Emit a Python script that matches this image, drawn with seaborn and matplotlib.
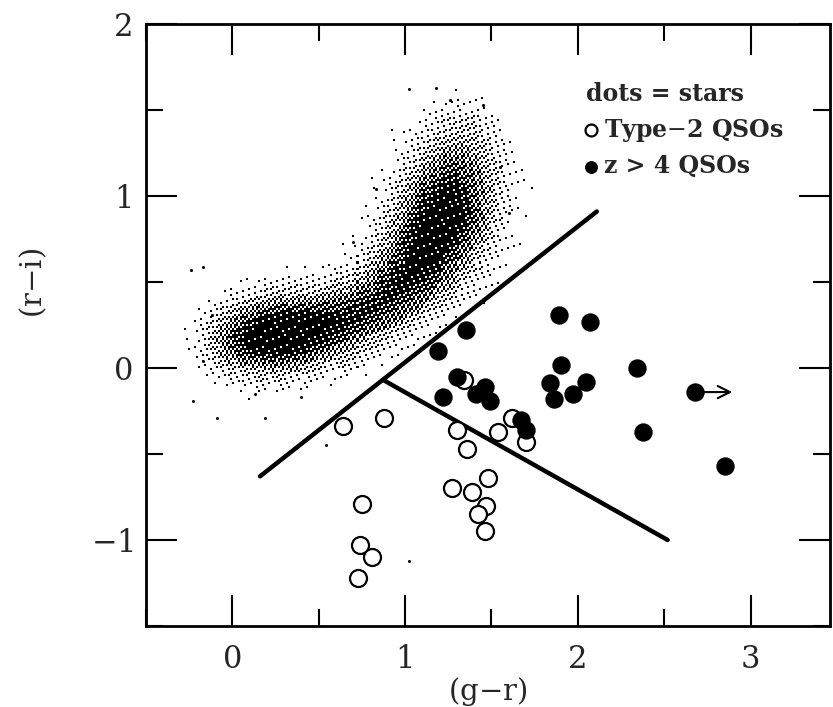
import numpy as np
import pandas as pd
import matplotlib.pyplot as plt
from matplotlib.colors import ListedColormap
import seaborn as sns

# --- data: colours (g-r) and (r-i) ---

# ridge of the stellar locus: centre, relative crowding and half-width there
locus_gr = [-0.02, 0.10, 0.22, 0.33, 0.45, 0.60, 0.75, 0.90, 1.02, 1.12, 1.20, 1.25, 1.28, 1.31, 1.33]
locus_ri = [0.15, 0.17, 0.19, 0.20, 0.22, 0.26, 0.32, 0.40, 0.52, 0.66, 0.82, 0.95, 1.10, 1.25, 1.38]
locus_w = [0.35, 0.8, 1.0, 1.0, 0.9, 0.8, 0.75, 0.75, 0.8, 0.95, 1.0, 0.85, 0.5, 0.25, 0.1]
locus_sig = [0.11, 0.12, 0.12, 0.12, 0.12, 0.12, 0.12, 0.12, 0.13, 0.15, 0.15, 0.15, 0.15, 0.14, 0.12]

# a few stray stars well away from the locus
stray_gr = [-0.24, -0.17, -0.23, -0.09, -0.12, 1.02, 1.26, 1.45, 1.60, 0.19, 0.40, 0.13,
            -0.17, 0.70, 0.83, 1.55, 1.18, 1.02, 0.54]
stray_ri = [0.57, 0.59, -0.19, -0.29, 0.31, 1.62, 1.56, 1.53, 0.90, -0.29, -0.17, -0.15,
            0.04, 0.73, 1.04, 1.17, 1.63, -1.12, -0.45]

# Type-2 QSOs (open circles)
type2_gr = [0.64, 0.88, 1.30, 1.36, 1.54, 1.62, 1.70, 1.48, 1.27, 1.39, 1.47, 1.42, 1.46,
            0.75, 0.74, 0.81, 0.73, 1.34]
type2_ri = [-0.34, -0.29, -0.36, -0.47, -0.37, -0.29, -0.43, -0.64, -0.70, -0.72, -0.80,
            -0.85, -0.95, -0.79, -1.03, -1.10, -1.22, -0.07]

# z > 4 QSOs (filled circles); one is only a lower limit in (g-r)
hiz_gr = [1.35, 1.19, 1.30, 1.22, 1.41, 1.46, 1.49, 1.89, 2.07, 1.90, 1.84, 1.86, 1.97,
          2.05, 2.34, 2.68, 2.38, 2.85, 1.67, 1.70]
hiz_ri = [0.22, 0.10, -0.05, -0.17, -0.15, -0.11, -0.19, 0.31, 0.27, 0.02, -0.09, -0.18,
          -0.15, -0.08, 0.00, -0.14, -0.37, -0.57, -0.30, -0.36]
hiz_limit = [False] * 15 + [True] + [False] * 4
limit_len = 0.23

# colour cuts
cut1_gr = [0.16, 2.11]
cut1_ri = [-0.63, 0.91]
cut2_gr = [0.874, 2.52]
cut2_ri = [-0.07, -1.00]

sns.set_style('ticks')
plt.rcParams['font.family'] = ['DejaVu Serif']
plt.rcParams['mathtext.fontset'] = 'dejavuserif'

fig = plt.figure(figsize=(8.33, 7.07), dpi=100)
ax = fig.add_axes([146 / 833, 1 - 626 / 707, (830 - 146) / 833, (626 - 24) / 707])

# stellar locus: crowding along the ridge, printed as a dot screen
cell_x, cell_y = 2 / 172.7, 2 / 172.0
gx = np.arange(-0.5, 1.9, cell_x) + cell_x / 2
gy = np.arange(-0.7, 1.9, cell_y) + cell_y / 2
X, Y = np.meshgrid(gx, gy)
dens = np.zeros_like(X)
for cx, cy, w, s in zip(locus_gr, locus_ri, locus_w, locus_sig):
    dens += w * np.exp(-((X - cx) ** 2 + (Y - cy) ** 2) / (2 * s ** 2))
ink = np.clip(1.25 * (dens / dens.max()) ** 0.8 - 0.015, 0, 0.93)
# interleaved-gradient threshold screen, so the dots do not line up in a grid
J, I = np.meshgrid(np.arange(len(gx)), np.arange(len(gy)))
screen = np.mod(52.9829189 * np.mod(0.06711056 * J + 0.00583715 * I, 1.0), 1.0)
dots = np.ma.masked_where(ink <= screen, np.ones_like(ink))
ax.imshow(dots, cmap=ListedColormap(['black']), origin='lower', aspect='auto',
          interpolation='nearest', zorder=1,
          extent=[gx[0] - cell_x / 2, gx[-1] + cell_x / 2, gy[0] - cell_y / 2, gy[-1] + cell_y / 2])
sns.scatterplot(x=stray_gr, y=stray_ri, s=5, color='black', linewidth=0, ax=ax, zorder=2)

# selection lines
sns.lineplot(x=cut1_gr, y=cut1_ri, color='black', lw=3.2, sort=False, ax=ax, zorder=3)
sns.lineplot(x=cut2_gr, y=cut2_ri, color='black', lw=3.2, sort=False, ax=ax, zorder=3)

sns.scatterplot(x=type2_gr, y=type2_ri, s=150, facecolor='white', edgecolor='black',
                linewidth=1.6, marker='o', label='Type$-$2 QSOs', ax=ax, zorder=4)
sns.scatterplot(x=hiz_gr, y=hiz_ri, s=175, color='black', linewidth=0, marker='o',
                label='z > 4 QSOs', ax=ax, zorder=5)

for gr, ri, lim in zip(hiz_gr, hiz_ri, hiz_limit):
    if lim:
        ax.annotate('', xy=(gr + limit_len, ri), xytext=(gr, ri),
                    arrowprops=dict(arrowstyle='->', color='black', lw=1.5,
                                    mutation_scale=22))

ax.set_xlim(-0.5, 3.46)
ax.set_ylim(-1.5, 2.0)
ax.set_xticks([0, 1, 2, 3])
ax.set_xticks([-0.5, 0.5, 1.5, 2.5], minor=True)
ax.set_yticks([-1, 0, 1, 2])
ax.set_yticks([-1.5, -0.5, 0.5, 1.5], minor=True)
ax.set_yticklabels(['$-$1', '0', '1', '2'])
ax.tick_params(which='both', direction='in', top=True, right=True, width=1.5,
               labelsize=22, color='black')
ax.tick_params(which='major', length=22)
ax.tick_params(which='minor', length=12)
ax.tick_params(axis='x', pad=13)
ax.tick_params(axis='y', pad=9)
for sp in ax.spines.values():
    sp.set_linewidth(2)
    sp.set_color('black')

ax.set_xlabel('(g$-$r)', fontsize=21)
ax.set_ylabel('(r$-$i)', fontsize=21)
ax.xaxis.set_label_coords(0.5, -0.108)
ax.xaxis.label.set_va('center')
ax.yaxis.set_label_coords(-0.165, 0.57)
ax.yaxis.label.set_va('center')

leg = ax.legend(title='dots = stars', loc='upper left', bbox_to_anchor=(0.615, 0.935),
                frameon=False, alignment='left', fontsize=17, title_fontsize=17,
                markerscale=0.7, handletextpad=0.3, handlelength=0.5,
                labelspacing=0.45, borderpad=0.3)
leg.get_title().set_fontweight('bold')
for t in leg.get_texts():
    t.set_fontweight('bold')

fig.savefig('out.png', dpi=100)
